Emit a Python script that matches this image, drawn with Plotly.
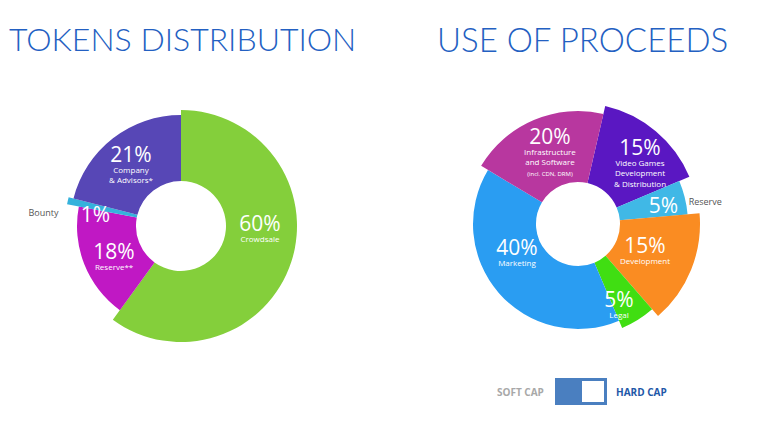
import plotly.graph_objects as go

W, H = 768, 427
OFF = 8  # page body margin

# Tokens distribution (clockwise from 12 o'clock)
token_names = ["Crowdsale", "Reserve**", "Bounty", "Company<br>& Advisors*"]
token_pct = [60, 18, 1, 21]

# Use of proceeds (clockwise)
use_names = ["Video Games<br>Development<br>& Distribution", "Reserve", "Development",
             "Legal", "Marketing",
             "Infrastructure<br>and Software<br><span style='font-size:6px'>(incl. CDN, DRM)</span>"]
use_pct = [15, 5, 15, 5, 40, 20]

# styling: outer radius (px) per slice, colours, label placements
token_outer = [116, 104, 116, 111]
token_colors = ["#84CF3B", "#C018C4", "#35B2DC", "#5747B6"]
token_lab_theta = [97.2, 240.4, 276.3, 319.7]
token_lab_r = [79.6, 77, 86, 77.3]
token_inside_name = [True, True, False, True]

use_outer = [121, 110, 122, 113, 105, 113]
use_colors = ["#5A17C2", "#40B8E6", "#FA8C22", "#40DE12", "#2A9DF2", "#B8379F"]
use_lab_theta = [44.1, 79.5, 116.9, 155, 239.5, 339.5]
use_lab_r = [89.1, 87, 75.1, 97.1, 70.8, 80]
use_inside_name = [True, False, True, True, True, True]

R = 140  # radial range in px


def px(x):
    return (x - OFF) / W


def py(y):
    return 1 - (y - OFF) / H


def wedges(pct, start):
    widths = [p * 3.6 for p in pct]
    centers, acc = [], start
    for w in widths:
        centers.append(acc + w / 2)
        acc += w
    return centers, widths


def domain(cx, cy):
    return dict(x=[px(cx - R), px(cx + R)], y=[py(cy + R), py(cy - R)])


fig = go.Figure()

for sub, pct, names, outer, colors, lt, lr, inside, hole, start in [
    ("polar", token_pct, token_names, token_outer, token_colors,
     token_lab_theta, token_lab_r, token_inside_name, 45, 0),
    ("polar2", use_pct, use_names, use_outer, use_colors,
     use_lab_theta, use_lab_r, use_inside_name, 42, 13),
]:
    centers, widths = wedges(pct, start)
    fig.add_trace(go.Barpolar(
        theta=centers, width=widths, base=[hole] * len(pct),
        r=[o - hole for o in outer],
        marker=dict(color=colors, line=dict(width=0)),
        subplot=sub, hoverinfo="skip", showlegend=False
    ))
    # percentages
    fig.add_trace(go.Scatterpolar(
        theta=lt, r=lr, mode="text", text=[f"{p}%" for p in pct],
        textposition=["top center" if i else "middle center" for i in inside],
        textfont=dict(family="Open Sans", size=21, color="white"),
        subplot=sub, hoverinfo="skip", showlegend=False, cliponaxis=False
    ))
    # names inside the slice
    fig.add_trace(go.Scatterpolar(
        theta=[t for t, i in zip(lt, inside) if i], r=[r for r, i in zip(lr, inside) if i],
        mode="text", text=[n for n, i in zip(names, inside) if i], textposition="bottom center",
        textfont=dict(family="Open Sans", size=8, color="white"),
        subplot=sub, hoverinfo="skip", showlegend=False, cliponaxis=False
    ))

# outside labels
fig.add_trace(go.Scatterpolar(theta=[275], r=[138], mode="text", text=["Bounty"],
                              textfont=dict(family="Open Sans", size=9, color="#555555"),
                              subplot="polar", hoverinfo="skip", showlegend=False, cliponaxis=False))
fig.add_trace(go.Scatterpolar(theta=[80.6], r=[129], mode="text", text=["Reserve"],
                              textfont=dict(family="Open Sans", size=9, color="#555555"),
                              subplot="polar2", hoverinfo="skip", showlegend=False, cliponaxis=False))

polar_common = dict(
    bgcolor="white",
    radialaxis=dict(range=[0, R], visible=False),
    angularaxis=dict(rotation=90, direction="clockwise", visible=False),
)
fig.update_layout(
    width=W, height=H, margin=dict(l=0, r=0, t=0, b=0),
    paper_bgcolor="white", plot_bgcolor="white",
    polar=dict(domain=domain(181, 226), **polar_common),
    polar2=dict(domain=domain(578, 224), **polar_common),
    annotations=[
        dict(text="TOKENS DISTRIBUTION", x=px(182), y=py(39), xref="paper", yref="paper",
             xanchor="center", yanchor="middle", showarrow=False,
             font=dict(family="Lato", size=32, color="#2360C2", weight=300)),
        dict(text="USE OF PROCEEDS", x=px(582), y=py(39), xref="paper", yref="paper",
             xanchor="center", yanchor="middle", showarrow=False,
             font=dict(family="Lato", size=33, color="#2360C2", weight=300)),
        dict(text="<b>SOFT CAP</b>", x=px(546), y=py(392), xref="paper", yref="paper",
             xanchor="right", yanchor="middle", showarrow=False,
             font=dict(family="Open Sans", size=10, color="#A8A8A8")),
        dict(text="<b>HARD CAP</b>", x=px(614), y=py(392), xref="paper", yref="paper",
             xanchor="left", yanchor="middle", showarrow=False,
             font=dict(family="Open Sans", size=10, color="#1F58A8")),
    ],
    shapes=[
        dict(type="rect", xref="paper", yref="paper", x0=px(555), x1=px(607),
             y0=py(405), y1=py(378), fillcolor="#4A7FC0", line=dict(width=0)),
        dict(type="rect", xref="paper", yref="paper", x0=px(582), x1=px(604),
             y0=py(402), y1=py(381), fillcolor="white", line=dict(width=0)),
    ],
)

fig.write_html("out.html")
